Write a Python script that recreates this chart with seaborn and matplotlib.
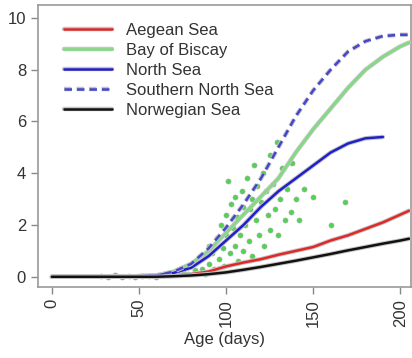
import numpy as np
import pandas as pd
import matplotlib
matplotlib.use("Agg")
import matplotlib.pyplot as plt
import matplotlib.patheffects as pe
import seaborn as sns

# curves (age in days -> value)
ages = [0, 20, 40, 60, 70, 80, 90, 100, 110, 120, 130, 140, 150, 160, 170, 180, 190, 200, 205]
aegean = [0, 0, 0, 0.02, 0.05, 0.1, 0.2, 0.4, 0.55, 0.68, 0.85, 1.0, 1.15, 1.4, 1.6, 1.85, 2.1, 2.4, 2.55]
biscay = [0, 0, 0, 0.05, 0.2, 0.5, 1.0, 1.7, 2.4, 3.1, 3.8, 4.8, 5.7, 6.5, 7.3, 8.0, 8.5, 8.9, 9.05]
north = [0, 0, 0, 0.05, 0.15, 0.35, 0.8, 1.4, 2.0, 2.7, 3.3, 3.8, 4.3, 4.8, 5.15, 5.35, 5.4]
south_north = [0, 0, 0, 0.05, 0.2, 0.5, 1.1, 1.9, 2.8, 3.8, 5.0, 6.2, 7.2, 8.0, 8.7, 9.1, 9.3, 9.35, 9.35]
norwegian = [0, 0, 0, 0, 0.02, 0.05, 0.1, 0.17, 0.27, 0.38, 0.5, 0.62, 0.75, 0.88, 1.02, 1.15, 1.28, 1.4, 1.47]

# observed points (Bay of Biscay cloud)
obs_age = [28, 32, 36, 40, 44, 48, 52, 56, 60, 64, 68, 72,
           75, 78, 80, 82, 84, 86, 88, 88, 90, 90, 92, 93,
           95, 96, 97, 98, 99, 100, 100, 101, 102, 103, 104, 105, 105,
           106, 107, 108, 109, 110, 110, 111, 112, 113, 114, 115, 115,
           116, 117, 118, 119, 120, 121, 122, 123, 124, 125, 125,
           127, 128, 129, 130, 131, 132, 134, 135, 137, 138, 140, 142, 145, 150, 160, 168]
obs_val = [0.02, 0.0, 0.05, 0.0, 0.03, 0.0, 0.04, 0.02, 0.0, 0.05, 0.08, 0.1,
           0.2, 0.1, 0.4, 0.25, 0.6, 0.3, 0.8, 0.1, 0.5, 1.2, 0.9, 0.3,
           1.5, 0.7, 2.0, 1.1, 0.4, 2.4, 1.6, 3.7, 0.9, 2.8, 1.9, 1.2, 3.1,
           2.3, 0.6, 1.6, 3.3, 2.7, 1.0, 2.0, 3.8, 1.4, 2.6, 3.0, 0.8,
           4.3, 2.2, 3.5, 1.6, 2.9, 4.0, 1.2, 3.3, 2.4, 4.7, 1.8,
           3.6, 2.6, 5.2, 1.6, 3.0, 4.2, 2.2, 3.4, 2.5, 4.4, 3.0, 2.2, 3.4, 3.1, 2.0, 2.9]

series = [
    ("Aegean Sea", aegean, "#e02828", "-"),
    ("Bay of Biscay", biscay, "#7fdc7f", "-"),
    ("North Sea", north, "#2020c8", "-"),
    ("Southern North Sea", south_north, "#4646c8", (0, (3, 2))),
    ("Norwegian Sea", norwegian, "#111111", "-"),
]

sns.set_style("white")
plt.rcParams["font.family"] = ["Liberation Sans", "DejaVu Sans"]

fig = plt.figure(figsize=(4.12, 3.58), dpi=100)
ax = fig.add_axes([0.092, 0.198, 0.905, 0.788])

sns.scatterplot(x=obs_age, y=obs_val, ax=ax, color="#33cc33", s=14,
                edgecolor="#aaaaaa", linewidth=0.4, alpha=0.85, zorder=1)

halo = [pe.Stroke(linewidth=3.2, foreground="#c4c4c4"), pe.Normal()]
for name, vals, col, ls in series:
    df = pd.DataFrame({"age": ages[:len(vals)], "val": vals})
    sns.lineplot(data=df, x="age", y="val", ax=ax, color=col, linestyle=ls,
                 linewidth=1.8, label=name, path_effects=halo, zorder=3)

ax.set_xlim(-8, 206)
ax.set_ylim(-0.4, 10.5)
ax.set_xticks([0, 50, 100, 150, 200])
ax.set_yticks([0, 2, 4, 6, 8, 10])
ax.tick_params(axis="both", length=5, width=1, color="#888888",
               labelsize=12, labelcolor="#333333", direction="out", bottom=True, left=True)
ax.tick_params(axis="x", labelrotation=90)
ax.set_xlabel("Age (days)", fontsize=12, color="#333333")
ax.set_ylabel("")
for sp in ax.spines.values():
    sp.set_color("#999999")
    sp.set_linewidth(1.2)

leg = ax.legend(loc="upper left", bbox_to_anchor=(0.03, 0.99), frameon=False,
                fontsize=12, handlelength=2.9, labelspacing=0.3, handletextpad=0.8)
for t in leg.get_texts():
    t.set_color("#333333")

fig.savefig("out.png", dpi=100)
